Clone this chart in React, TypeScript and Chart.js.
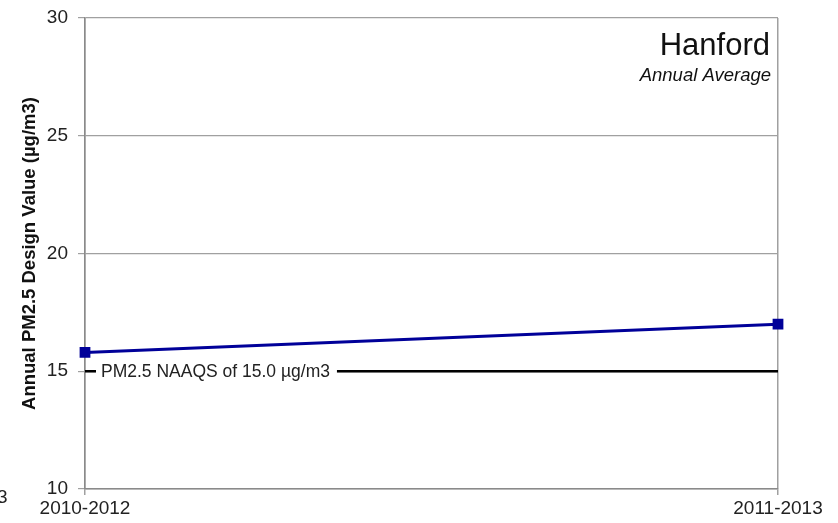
import React, { useEffect, useRef } from "react";
import { Chart, registerables } from "chart.js";

Chart.register(...registerables);

const categories = ["2010-2012", "2011-2013"];
const designValues = [15.8, 17.0];
const naaqsValues = [15.0, 15.0];
const yTicks = [10, 15, 20, 25, 30];
const chartTitle = "Hanford";
const chartSubtitle = "Annual Average";
const naaqsLabel = "PM2.5 NAAQS of 15.0 µg/m3";
const yTitle = "Annual PM2.5 Design Value (µg/m3)";

const FONT = "'Liberation Sans', Arial, sans-serif";

const overlayPlugin = {
  id: "overlay",
  afterDatasetsDraw(chart: any) {
    const ctx = chart.ctx;
    const area = chart.chartArea;
    const y = chart.scales.y;
    ctx.save();
    // NAAQS label with white background
    const ly = y.getPixelForValue(15);
    ctx.font = `17.5px ${FONT}`;
    const tw = ctx.measureText(naaqsLabel).width;
    const lx = area.left + 16;
    ctx.fillStyle = "#ffffff";
    ctx.fillRect(lx - 5, ly - 11, tw + 12, 22);
    ctx.fillStyle = "#222222";
    ctx.textAlign = "left";
    ctx.textBaseline = "middle";
    ctx.fillText(naaqsLabel, lx, ly + 1);
    // Title
    ctx.textAlign = "right";
    ctx.font = `31px ${FONT}`;
    ctx.fillStyle = "#111111";
    ctx.fillText(chartTitle, area.right - 8, 46);
    ctx.font = `italic 18.5px ${FONT}`;
    ctx.fillText(chartSubtitle, area.right - 7, 76);
    // cut-off text at bottom left
    ctx.textAlign = "left";
    ctx.font = `19px ${FONT}`;
    ctx.fillStyle = "#222222";
    ctx.fillText("3", -3, 498);
    ctx.restore();
  },
};

export default function App() {
  const ref = useRef<HTMLCanvasElement>(null);
  useEffect(() => {
    if (!ref.current) return;
    const chart = new Chart(ref.current, {
      type: "line",
      data: {
        labels: categories,
        datasets: [
          {
            label: "NAAQS",
            data: naaqsValues,
            borderColor: "#000000",
            borderWidth: 2.5,
            pointRadius: 0,
            order: 2,
          },
          {
            label: "Design Value",
            data: designValues,
            borderColor: "#000099",
            backgroundColor: "#000099",
            borderWidth: 3,
            pointStyle: "rect",
            pointRadius: 5.5,
            pointHoverRadius: 5.5,
            order: 1,
          },
        ],
      },
      options: {
        animation: false,
        responsive: false,
        maintainAspectRatio: false,
        layout: { padding: { top: 18, right: 60, bottom: 0, left: 0 } },
        plugins: { legend: { display: false }, tooltip: { enabled: false } },
        scales: {
          x: {
            offset: false,
            grid: {
              display: true,
              drawOnChartArea: true,
              color: "#a0a0a0",
              lineWidth: 1.5,
              tickLength: 6,
            },
            border: { display: true, color: "#8a8a8a", width: 1.5 },
            ticks: {
              color: "#222222",
              font: { family: FONT, size: 19 },
              padding: 2,
              maxRotation: 0,
            },
            afterFit(scale: any) {
              scale.height = 34;
              scale.paddingLeft = 0;
              scale.paddingRight = 0;
            },
          },
          y: {
            min: 10,
            max: 30,
            afterBuildTicks(scale: any) {
              scale.ticks = yTicks.map((v) => ({ value: v }));
            },
            grid: {
              color: "#a0a0a0",
              lineWidth: 1.2,
              tickLength: 7,
            },
            border: { display: true, color: "#8a8a8a", width: 1.5 },
            ticks: {
              color: "#222222",
              font: { family: FONT, size: 19 },
              padding: 10,
            },
            title: {
              display: true,
              text: yTitle,
              color: "#111111",
              font: { family: FONT, size: 18.5, weight: "bold" },
              padding: { top: 19, bottom: 0 },
            },
            afterFit(scale: any) {
              scale.width = 85;
              scale.paddingTop = 0;
              scale.paddingBottom = 0;
            },
          },
        },
      },
      plugins: [overlayPlugin],
    });
    return () => chart.destroy();
  }, []);
  return (
    <div style={{ position: "absolute", left: 0, top: 0, width: 838, height: 523, background: "#fff" }}>
      <canvas ref={ref} width={838} height={523} style={{ width: 838, height: 523 }} />
    </div>
  );
}
